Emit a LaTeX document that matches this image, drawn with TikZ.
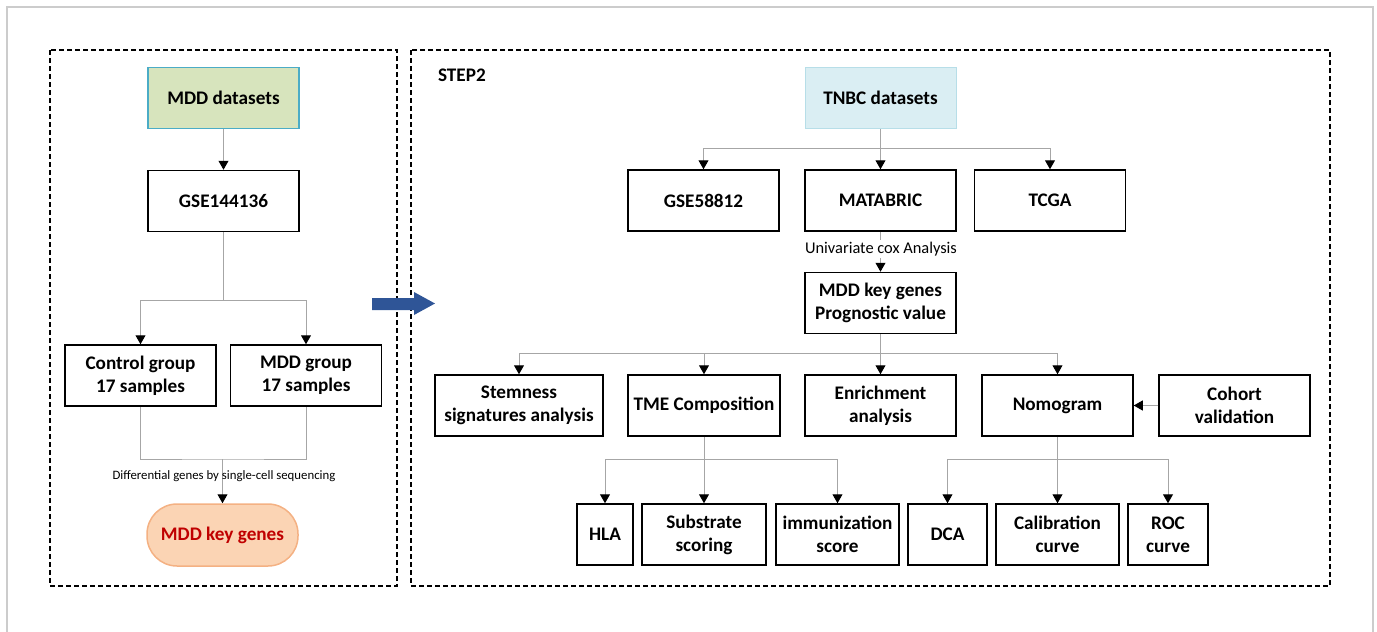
\documentclass[tikz,border=0pt]{standalone}
\usepackage{fontspec}
\setmainfont{Carlito}
\usepackage{tikz}
\usetikzlibrary{arrows.meta,positioning,calc}
\definecolor{FlowGreen}{HTML}{D7E4BD}
\definecolor{FlowTeal}{HTML}{4BACC6}
\definecolor{FlowSky}{HTML}{DAEEF3}
\definecolor{FlowSkyEdge}{HTML}{B7DEE8}
\definecolor{FlowPeach}{HTML}{FBD4B4}
\definecolor{FlowPeachEdge}{HTML}{F4B183}
\definecolor{FlowRed}{HTML}{C00000}
\definecolor{FlowBlue}{HTML}{2F5597}
\definecolor{FlowLine}{HTML}{A6A6A6}

\begin{document}
\begin{tikzpicture}[x=0.5pt, y=-0.5pt,
  box/.style={draw, line width=0.75pt, fill=white, font=\fontsize{9.6}{11.5}\selectfont\bfseries, align=center, inner sep=0pt, minimum width=75.5pt, minimum height=30.5pt},
  link/.style={draw=FlowLine, line width=0.5pt},
  flow/.style={link, -{Triangle[length=4.5pt, width=5pt, color=black]}},
  frame/.style={line width=1.2pt, dash pattern=on 2.5pt off 1.5pt}]
\useasboundingbox (0,0) rectangle (1377,632);

% Outer frame and the two step panels
\draw[black!20, line width=0.75pt] (7,632) -- (7,7) -- (1373,7) -- (1373,632);
\draw[frame] (50,50) rectangle (397,586);
\draw[frame] (411,50) rectangle (1330,586);

% Step 1 - left panel
\node[box, fill=FlowGreen, draw=FlowTeal] (mddset) at (223.5,98) {MDD datasets};
\node[box] (gse1) at (223.5,201) {GSE144136};
\node[box] (ctrl) at (140.5,375.5) {Control group\\17 samples};
\node[box] (mddg) at (306,375.5) {MDD group\\17 samples};
\node[box, fill=FlowPeach, draw=FlowPeachEdge, text=FlowRed, rounded corners=15pt, minimum height=31pt] (keyg) at (222.5,535) {MDD key genes};

\coordinate (split1) at (223.5,300);
\coordinate (merge1) at (222.5,459);
\draw[flow] (mddset) -- (gse1);
\draw[link] (gse1) -- (split1);
\draw[flow] (split1) -| (ctrl);
\draw[flow] (split1) -| (mddg);
\draw[link] (ctrl) |- (merge1) -| (mddg);
\draw[flow] (merge1) -- (keyg);
\node[font=\fontsize{6.4}{7}\selectfont] (difflab) at (224,476) {Differential genes by single-cell sequencing};

% Blue arrow between panels
\fill[FlowBlue] (372,298) -- (414,298) -- (414,292) -- (435,303.5) -- (414,315) -- (414,310) -- (372,310) -- cycle;

% Step 2 - right panel
\node[font=\fontsize{9.6}{11.5}\selectfont\bfseries, anchor=west] (steplab) at (431,75) {STEP2};
\node[box, fill=FlowSky, draw=FlowSkyEdge, line width=0.5pt] (tnbc) at (880.5,98) {TNBC datasets};
\node[box] (gse2) at (703.5,200.5) {GSE58812};
\node[box] (mata) at (880.5,200.5) {MATABRIC};
\node[box] (tcga) at (1050,200.5) {TCGA};
\node[box] (prog) at (880.5,303) {MDD key genes\\Prognostic value};

\node[box, minimum width=84pt] (stem) at (519,405.5) {Stemness\\signatures analysis};
\node[box, minimum width=76pt] (tme) at (704,405.5) {TME Composition};
\node[box] (enrich) at (880.5,405.5) {Enrichment\\analysis};
\node[box] (nomo) at (1057.5,405.5) {Nomogram};
\node[box] (cohort) at (1234.5,405.5) {Cohort\\validation};

\node[box, minimum width=28pt] (hla) at (605,534.5) {HLA};
\node[box, minimum width=62pt] (subs) at (704,534.5) {Substrate\\scoring};
\node[box, minimum width=61.5pt] (immu) at (837.5,534.5) {immunization\\score};
\node[box, minimum width=39.5pt] (dca) at (947.5,534.5) {DCA};
\node[box, minimum width=61.5pt] (calib) at (1057.5,534.5) {Calibration\\curve};
\node[box, minimum width=40pt] (roc) at (1168,534.5) {ROC\\curve};

% Connectors
\coordinate (split2) at (880.5,148);
\draw[link] (tnbc) -- (split2);
\foreach \n in {gse2,mata,tcga}
  \draw[flow] (split2) -| (\n);

\draw[flow] (mata) -- (prog);
\node[font=\fontsize{8.2}{9}\selectfont, fill=white, inner sep=1pt] (coxlab) at (881,249) {Univariate cox Analysis};

\coordinate (split3) at (880.5,353);
\draw[link] (prog) -- (split3);
\foreach \n in {stem,tme,enrich,nomo}
  \draw[flow] (split3) -| (\n);
\draw[flow] (cohort) -- (nomo);

\coordinate (split4) at (704,459);
\draw[link] (tme) -- (split4);
\foreach \n in {hla,subs,immu}
  \draw[flow] (split4) -| (\n);

\coordinate (split5) at (1057.5,459);
\draw[link] (nomo) -- (split5);
\foreach \n in {dca,calib,roc}
  \draw[flow] (split5) -| (\n);

\end{tikzpicture}
\end{document}
